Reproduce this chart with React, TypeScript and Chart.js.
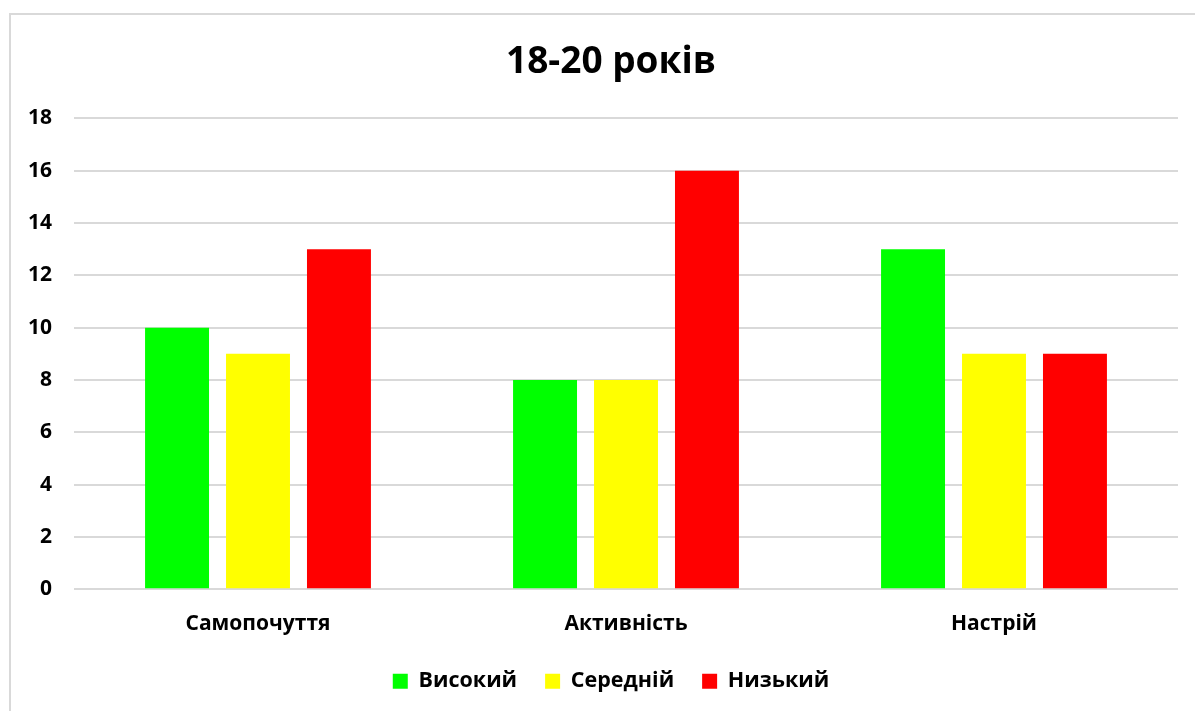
import React, { useEffect, useRef } from "react";
import { Chart, registerables } from "chart.js";

Chart.register(...registerables);

const categories = ["Самопочуття", "Активність", "Настрій"];
const seriesNames = ["Високий", "Середній", "Низький"];
const highValues = [10, 8, 13];
const midValues = [9, 8, 9];
const lowValues = [13, 16, 9];
const seriesColors = ["#00FF00", "#FFFF00", "#FF0000"];
const titleText = "18-20 років";

const FONT = "'Open Sans', 'Noto Sans', sans-serif";

export default function App() {
  const ref = useRef<HTMLCanvasElement | null>(null);

  useEffect(() => {
    if (!ref.current) return;
    const chart = new Chart(ref.current, {
      type: "bar",
      data: {
        labels: categories,
        datasets: [highValues, midValues, lowValues].map((d, i) => ({
          label: seriesNames[i],
          data: d,
          backgroundColor: seriesColors[i],
          borderWidth: 0,
          categoryPercentage: 0.66,
          barPercentage: 0.79,
        })),
      },
      options: {
        animation: false,
        responsive: false,
        maintainAspectRatio: false,
        layout: { padding: { left: 0, right: 0, top: 0, bottom: 9 } },
        plugins: {
          tooltip: { enabled: false },
          title: {
            display: true,
            text: titleText,
            color: "#000",
            font: { family: FONT, size: 37, weight: "bold" },
            padding: { top: 40, bottom: 34 },
          },
          legend: {
            position: "bottom",
            labels: {
              color: "#000",
              boxWidth: 15,
              boxHeight: 15,
              padding: 28,
              font: { family: FONT, size: 21.5, weight: "bold" },
            },
          },
        },
        scales: {
          x: {
            grid: { display: false, drawTicks: true, tickLength: 17 },
            border: { display: false },
            ticks: {
              color: "#000",
              padding: 5.5,
              font: { family: FONT, size: 21, weight: "bold" },
            },
          },
          y: {
            min: 0,
            max: 18,
            afterFit: (s: any) => {
              s.width = 74;
            },
            grid: { color: "#d9d9d9", lineWidth: 2, drawTicks: false },
            border: { display: false },
            ticks: {
              stepSize: 2,
              color: "#000",
              padding: 22,
              font: { family: FONT, size: 21, weight: "bold" },
            },
          },
          ySpacer: {
            position: "right",
            display: true,
            min: 0,
            max: 1,
            afterFit: (s: any) => {
              s.width = 44;
            },
            grid: { display: false, drawTicks: false },
            border: { display: false },
            ticks: { display: false },
          },
        },
      },
    });
    return () => chart.destroy();
  }, []);

  return (
    <div style={{ position: "fixed", left: 0, top: 0, width: 1195, height: 711, overflow: "hidden", background: "#fff" }}>
      <div
        style={{
          position: "absolute",
          left: 9,
          top: 13,
          width: 1300,
          height: 800,
          borderTop: "2px solid #d9d9d9",
          borderLeft: "2px solid #d9d9d9",
        }}
      />
      <canvas ref={ref} width={1222} height={711} style={{ position: "absolute", left: 0, top: 0 }} />
    </div>
  );
}
